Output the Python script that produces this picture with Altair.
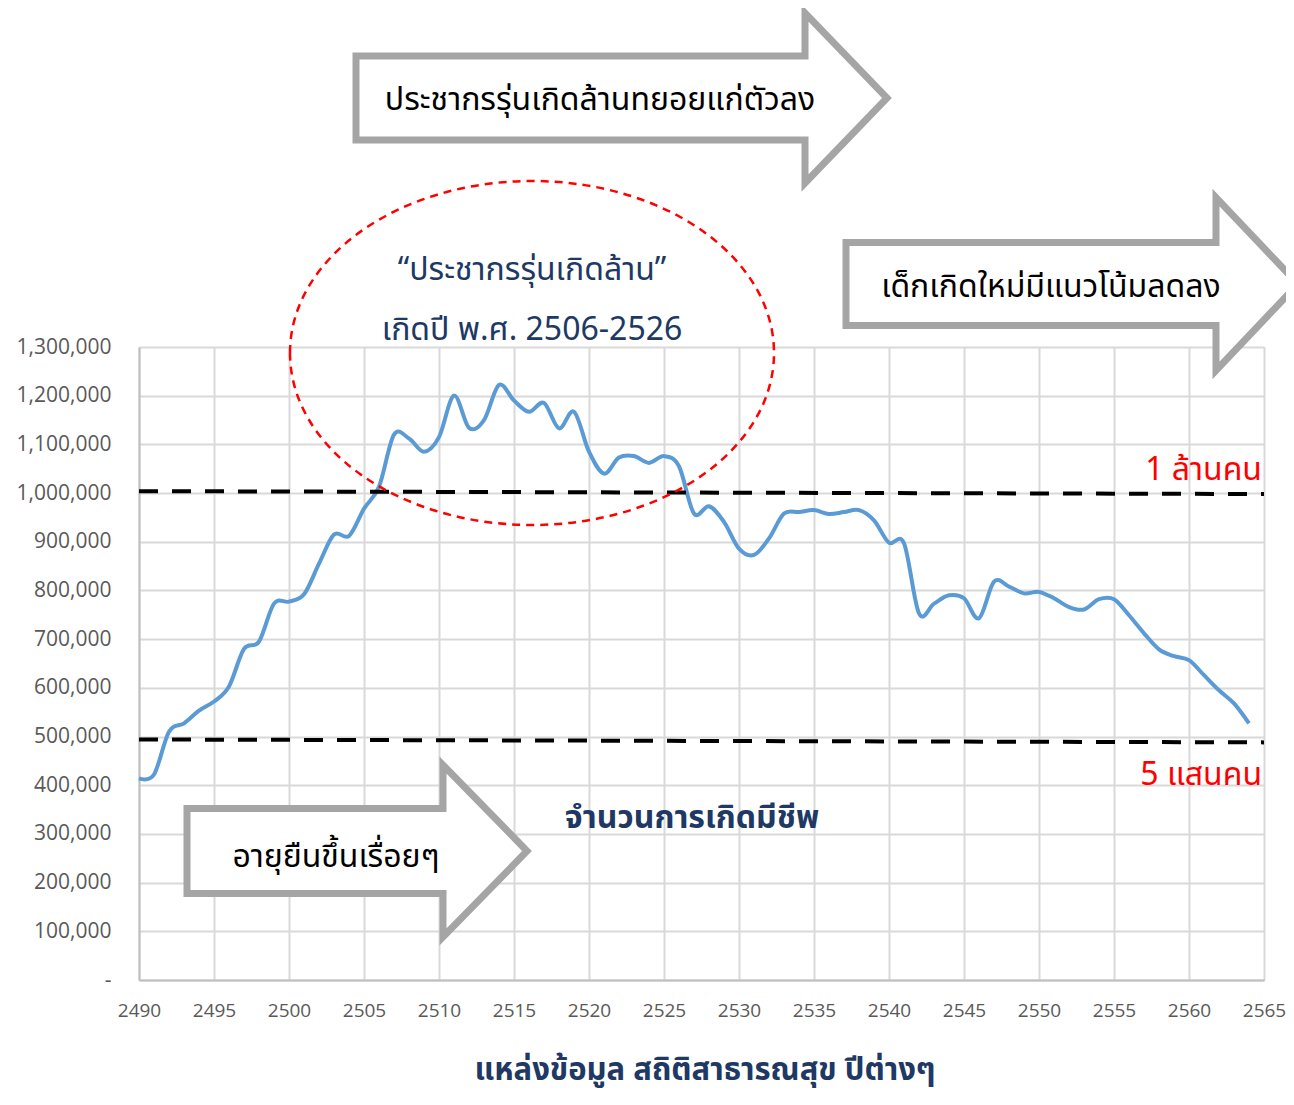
import altair as alt
import pandas as pd

# ---------------- data ----------------
years = list(range(2490, 2565))
births = [
    414000, 422000, 510000, 527000, 553000, 572000, 603000, 680000, 695000, 773000,
    777000, 792000, 855000, 915000, 912000, 968000, 1013000, 1120000, 1112000, 1085000,
    1115000, 1200000, 1134000, 1150000, 1222000, 1190000, 1167000, 1185000, 1133000, 1167000,
    1085000, 1040000, 1073000, 1076000, 1062000, 1076000, 1055000, 958000, 973000, 941000,
    886000, 873000, 907000, 958000, 961000, 965000, 957000, 961000, 965000, 944000,
    898000, 897000, 753000, 773000, 790000, 784000, 743000, 818000, 808000, 794000,
    797000, 784000, 766000, 761000, 782000, 782000, 749000, 712000, 679000, 665000,
    657000, 626000, 595000, 568000, 527000,
]
x_ticks = list(range(2490, 2566, 5))
y_ticks = list(range(0, 1300001, 100000))

ref_x_start = [2490, 2490]
ref_x_end = [2565, 2565]
ref_y_start = [1004000, 494000]
ref_y_end = [998000, 488000]

df = pd.DataFrame({"year": years, "births": births})
refs = pd.DataFrame({"x": ref_x_start, "x2": ref_x_end, "y": ref_y_start, "y2": ref_y_end})
one = pd.DataFrame({"k": [0]})

THAI = "Noto Sans Thai, Loma, Garuda, Tahoma, Noto Sans, sans-serif"
NAVY = "#203864"
GRAY = "#a5a5a5"

# ---------------- base line ----------------
line = alt.Chart(df).mark_line(
    color="#5b9bd5", strokeWidth=4, interpolate="cardinal"
).encode(
    x=alt.X("year:Q",
            scale=alt.Scale(domain=[2490, 2565], nice=False, zero=False),
            axis=alt.Axis(values=x_ticks, format="d", title=None, ticks=False, tickSize=0,
                          labelPadding=21, labelFontSize=19, labelColor="#595959",
                          labelFont="Open Sans", labelFlush=False, labelOverlap=False,
                          grid=True, gridColor="#d9d9d9", gridWidth=2,
                          domainColor="#bfbfbf", domainWidth=2)),
    y=alt.Y("births:Q",
            scale=alt.Scale(domain=[0, 1300000], nice=False),
            axis=alt.Axis(values=y_ticks, title=None, ticks=False, tickSize=0,
                          labelPadding=28, labelFontSize=21, labelColor="#595959",
                          labelFont="Open Sans", labelFlush=False, labelOverlap=False,
                          labelExpr="datum.value == 0 ? '-\\u00a0\\u00a0' : format(datum.value, ',')",
                          grid=True, gridColor="#d9d9d9", gridWidth=2,
                          domainColor="#bfbfbf", domainWidth=2)),
)

rules = alt.Chart(refs).mark_rule(
    color="black", strokeWidth=4, strokeDash=[19, 14]
).encode(x="x:Q", x2="x2:Q", y="y:Q", y2="y2:Q")


# ---------------- annotations ----------------
def arrow_path(body_half, head_half, base, tip):
    return (f"M0,{-body_half} L{base},{-body_half} L{base},{-head_half} L{tip},0 "
            f"L{base},{head_half} L{base},{body_half} L0,{body_half} Z")


def arrow(px, py, body_half, head_half, base, tip):
    return alt.Chart(one).mark_point(
        shape=arrow_path(body_half, head_half, base, tip), size=4, filled=True,
        fill="white", stroke=GRAY, strokeWidth=7, opacity=1, strokeJoin="miter",
    ).encode(x=alt.value(px), y=alt.value(py))


def label(txt, px, py, size, color, weight="normal", align="center"):
    return alt.Chart(one).mark_text(
        text=txt, font=THAI, fontSize=size, color=color, fontWeight=weight,
        align=align, baseline="middle",
    ).encode(x=alt.value(px), y=alt.value(py))


ellipse = alt.Chart(one).mark_point(
    shape="M-242,0 A242,172 0 1,1 242,0 A242,172 0 1,1 -242,0 Z",
    size=4, filled=False, stroke="#ff0000", strokeWidth=2.5, strokeDash=[8, 6], opacity=1,
).encode(x=alt.value(393), y=alt.value(6))

layers = [
    line,
    rules,
    arrow(217, -249, 42, 85, 449, 531),
    arrow(707, -63, 41.5, 86.5, 370, 452),
    arrow(48, 504, 42.5, 86, 256, 340),
    ellipse,
    label("ประชากรรุ่นเกิดล้านทยอยแก่ตัวลง", 461, -247, 32, "black"),
    label("เด็กเกิดใหม่มีแนวโน้มลดลง", 912, -60, 32, "black"),
    label("อายุยืนขึ้นเรื่อยๆ", 197, 510, 32, "black"),
    label("“ประชากรรุ่นเกิดล้าน”", 393, -77, 32, NAVY),
    label("เกิดปี พ.ศ. 2506-2526", 393, -17, 32, NAVY),
    label("1 ล้านคน", 1123, 123, 32, "#ff0000", align="right"),
    label("5 แสนคน", 1123, 428, 32, "#ff0000", align="right"),
    label("จำนวนการเกิดมีชีพ", 553, 471, 32, NAVY, weight="bold"),
    label("แหล่งข้อมูล สถิติสาธารณสุข ปีต่างๆ", 566, 724, 31, NAVY, weight="bold"),
]

chart = alt.layer(*layers).properties(
    width=1125,
    height=633,
    autosize=alt.AutoSizeParams(type="none"),
    padding={"left": 131, "top": 339, "right": 22, "bottom": 117},
).configure_view(stroke=None).configure(background="white")

chart.save("out.html", embed_options={"renderer": "svg", "actions": False})
